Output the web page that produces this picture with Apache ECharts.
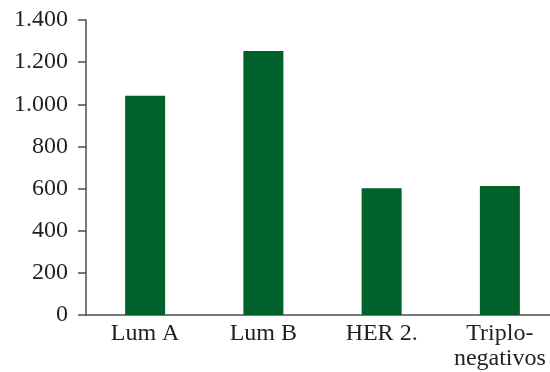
<!DOCTYPE html>
<html>
<head>
<meta charset="utf-8">
<script src="https://cdn.jsdelivr.net/npm/echarts@6/dist/echarts.min.js"></script>
<style>
  html, body { margin: 0; padding: 0; background: #fff; }
  #chart { width: 550px; height: 372px; }
</style>
</head>
<body>
<div id="chart"></div>
<script>
// categorias y valores
var categories = ['Lum A', 'Lum B', 'HER 2.', 'Triplo-\nnegativos'];
var values = [1040, 1253, 602, 612];
var yTicks = { min: 0, max: 1400, step: 200 };

var fontFam = '"Liberation Serif", "DejaVu Serif", serif';
var ink = '#231f20';

var myChart = echarts.init(document.getElementById('chart'));
myChart.setOption({
    animation: false,
    grid: {
        left: 86,
        width: 473,
        top: 20,
        bottom: 57,
        containLabel: false,
        outerBoundsMode: 'none'
    },
    xAxis: {
        type: 'category',
        data: categories,
        axisLine: { lineStyle: { color: '#4d4d4f', width: 1.5 } },
        axisTick: { show: false },
        axisLabel: {
            color: ink,
            fontFamily: fontFam,
            fontSize: 24,
            lineHeight: 25,
            margin: 6,
            interval: 0
        }
    },
    yAxis: {
        type: 'value',
        min: yTicks.min,
        max: yTicks.max,
        interval: yTicks.step,
        splitLine: { show: false },
        axisLine: { show: true, lineStyle: { color: '#4d4d4f', width: 1.5 } },
        axisTick: { show: true, length: 8, lineStyle: { color: '#4d4d4f', width: 1.5 } },
        axisLabel: {
            color: ink,
            fontFamily: fontFam,
            fontSize: 24,
            margin: 18,
            formatter: function (v) {
                return String(v).replace(/\B(?=(\d{3})+(?!\d))/g, '.');
            }
        }
    },
    series: [{
        type: 'bar',
        data: values,
        barWidth: 40,
        itemStyle: { color: '#00612a' }
    }]
});
</script>
</body>
</html>
